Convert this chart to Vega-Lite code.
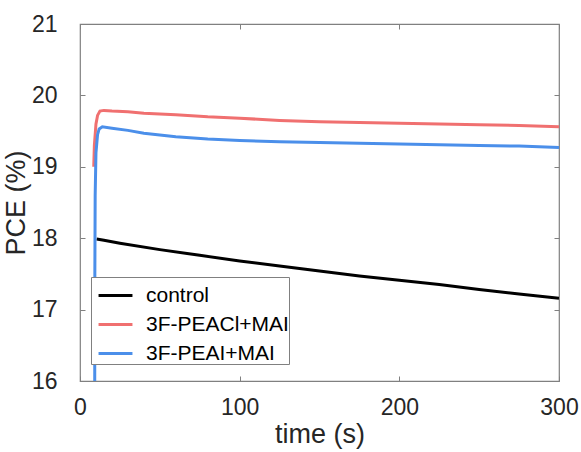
{
  "$schema": "https://vega.github.io/schema/vega-lite/v6.json",
  "width": 479,
  "height": 357,
  "autosize": "none",
  "padding": {"left": 80, "top": 24, "right": 22, "bottom": 71},
  "background": "white",
  "config": {
    "font": "Liberation Sans",
    "view": {"stroke": "#808080", "strokeWidth": 1.2}
  },
  "data": {
    "values": [
      {"t": 10.4, "pce": 17.99, "s": "control"},
      {"t": 15, "pce": 17.97, "s": "control"},
      {"t": 25, "pce": 17.93, "s": "control"},
      {"t": 50, "pce": 17.84, "s": "control"},
      {"t": 75, "pce": 17.76, "s": "control"},
      {"t": 100, "pce": 17.68, "s": "control"},
      {"t": 125, "pce": 17.61, "s": "control"},
      {"t": 150, "pce": 17.54, "s": "control"},
      {"t": 175, "pce": 17.47, "s": "control"},
      {"t": 200, "pce": 17.41, "s": "control"},
      {"t": 225, "pce": 17.35, "s": "control"},
      {"t": 250, "pce": 17.28, "s": "control"},
      {"t": 275, "pce": 17.22, "s": "control"},
      {"t": 300, "pce": 17.16, "s": "control"},
      {"t": 8.6, "pce": 19.0, "s": "3F-PEACl+MAI"},
      {"t": 9, "pce": 19.3, "s": "3F-PEACl+MAI"},
      {"t": 10, "pce": 19.6, "s": "3F-PEACl+MAI"},
      {"t": 11, "pce": 19.72, "s": "3F-PEACl+MAI"},
      {"t": 12.5, "pce": 19.78, "s": "3F-PEACl+MAI"},
      {"t": 15, "pce": 19.79, "s": "3F-PEACl+MAI"},
      {"t": 20, "pce": 19.78, "s": "3F-PEACl+MAI"},
      {"t": 30, "pce": 19.77, "s": "3F-PEACl+MAI"},
      {"t": 40, "pce": 19.75, "s": "3F-PEACl+MAI"},
      {"t": 60, "pce": 19.73, "s": "3F-PEACl+MAI"},
      {"t": 80, "pce": 19.7, "s": "3F-PEACl+MAI"},
      {"t": 100, "pce": 19.68, "s": "3F-PEACl+MAI"},
      {"t": 125, "pce": 19.65, "s": "3F-PEACl+MAI"},
      {"t": 150, "pce": 19.63, "s": "3F-PEACl+MAI"},
      {"t": 175, "pce": 19.62, "s": "3F-PEACl+MAI"},
      {"t": 200, "pce": 19.61, "s": "3F-PEACl+MAI"},
      {"t": 225, "pce": 19.6, "s": "3F-PEACl+MAI"},
      {"t": 250, "pce": 19.59, "s": "3F-PEACl+MAI"},
      {"t": 275, "pce": 19.58, "s": "3F-PEACl+MAI"},
      {"t": 300, "pce": 19.56, "s": "3F-PEACl+MAI"},
      {"t": 9.2, "pce": 15.5, "s": "3F-PEAI+MAI"},
      {"t": 9.3, "pce": 17.5, "s": "3F-PEAI+MAI"},
      {"t": 9.5, "pce": 18.6, "s": "3F-PEAI+MAI"},
      {"t": 10, "pce": 19.2, "s": "3F-PEAI+MAI"},
      {"t": 11, "pce": 19.45, "s": "3F-PEAI+MAI"},
      {"t": 12, "pce": 19.53, "s": "3F-PEAI+MAI"},
      {"t": 14, "pce": 19.56, "s": "3F-PEAI+MAI"},
      {"t": 20, "pce": 19.54, "s": "3F-PEAI+MAI"},
      {"t": 30, "pce": 19.51, "s": "3F-PEAI+MAI"},
      {"t": 40, "pce": 19.47, "s": "3F-PEAI+MAI"},
      {"t": 60, "pce": 19.42, "s": "3F-PEAI+MAI"},
      {"t": 80, "pce": 19.39, "s": "3F-PEAI+MAI"},
      {"t": 100, "pce": 19.37, "s": "3F-PEAI+MAI"},
      {"t": 125, "pce": 19.35, "s": "3F-PEAI+MAI"},
      {"t": 150, "pce": 19.34, "s": "3F-PEAI+MAI"},
      {"t": 175, "pce": 19.33, "s": "3F-PEAI+MAI"},
      {"t": 200, "pce": 19.32, "s": "3F-PEAI+MAI"},
      {"t": 225, "pce": 19.31, "s": "3F-PEAI+MAI"},
      {"t": 250, "pce": 19.3, "s": "3F-PEAI+MAI"},
      {"t": 275, "pce": 19.29, "s": "3F-PEAI+MAI"},
      {"t": 300, "pce": 19.27, "s": "3F-PEAI+MAI"}
    ]
  },
  "layer": [
    {
      "mark": {"type": "line", "strokeWidth": 3, "clip": true},
      "encoding": {
        "x": {
          "field": "t", "type": "quantitative",
          "scale": {"domain": [0, 300], "nice": false, "zero": false, "padding": 0},
          "axis": {
            "title": "time (s)", "values": [0, 100, 200, 300],
            "grid": false, "domain": false, "tickSize": -5, "tickColor": "#808080",
            "labelFlush": false, "labelOverlap": false,
            "labelFontSize": 23, "labelColor": "#262626", "labelPadding": 20,
            "titleFontSize": 27, "titleFontWeight": "normal", "titleColor": "#262626", "titlePadding": 2
          }
        },
        "y": {
          "field": "pce", "type": "quantitative",
          "scale": {"domain": [16, 21], "nice": false, "zero": false, "padding": 0},
          "axis": {
            "title": "PCE (%)", "values": [16, 17, 18, 19, 20, 21],
            "grid": false, "domain": false, "tickSize": -5, "tickColor": "#808080",
            "labelFlush": false, "labelOverlap": false,
            "labelFontSize": 23, "labelColor": "#262626", "labelPadding": 28,
            "titleFontSize": 27, "titleFontWeight": "normal", "titleColor": "#262626", "titlePadding": 1
          }
        },
        "color": {
          "field": "s", "type": "nominal",
          "scale": {"domain": ["control", "3F-PEACl+MAI", "3F-PEAI+MAI"], "range": ["#000000", "#F07070", "#4B8FEA"]},
          "legend": {
            "title": null, "orient": "none", "legendX": 11, "legendY": 253,
            "symbolType": "stroke", "symbolSize": 1150, "symbolStrokeWidth": 3,
            "labelFontSize": 21, "labelColor": "#000000", "labelLimit": 300,
            "strokeColor": "#808080", "fillColor": "white", "padding": 0,
            "rowPadding": -9, "labelOffset": 12, "symbolOffset": 6
          }
        }
      }
    },
    {
      "mark": {"type": "line", "opacity": 0},
      "encoding": {
        "x": {
          "field": "t", "type": "quantitative",
          "scale": {"domain": [0, 300], "nice": false, "zero": false, "padding": 0},
          "axis": {"orient": "top", "title": null, "labels": false, "values": [0, 100, 200, 300], "grid": false, "domain": false, "tickSize": -5, "tickColor": "#808080"}
        },
        "y": {
          "field": "pce", "type": "quantitative",
          "scale": {"domain": [16, 21], "nice": false, "zero": false, "padding": 0},
          "axis": {"orient": "right", "title": null, "labels": false, "values": [16, 17, 18, 19, 20, 21], "grid": false, "domain": false, "tickSize": -5, "tickColor": "#808080"}
        },
        "detail": {"field": "s"}
      }
    }
  ],
  "resolve": {"axis": {"x": "independent", "y": "independent"}}
}
